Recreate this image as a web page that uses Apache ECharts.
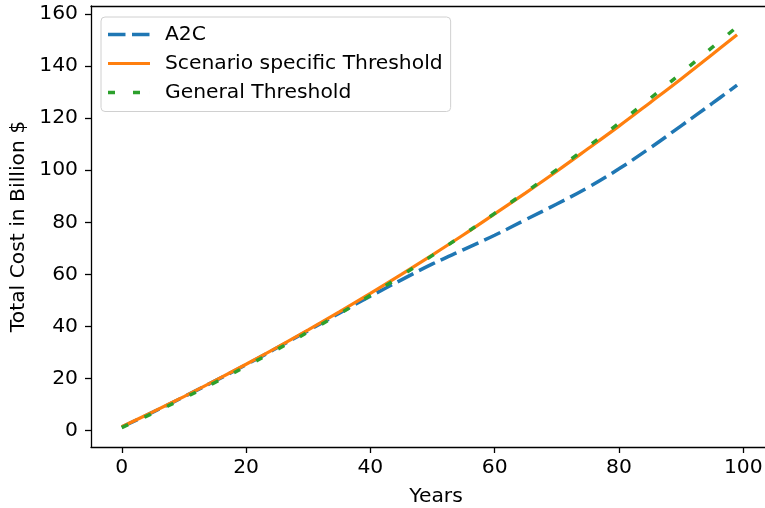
<!DOCTYPE html>
<html>
<head>
<meta charset="utf-8">
<script src="https://cdn.jsdelivr.net/npm/echarts@6/dist/echarts.min.js"></script>
<style>html,body{margin:0;padding:0;background:#fff;overflow:hidden}#c{width:765px;height:508px}</style>
</head>
<body>
<div id="c"></div>
<script>
const years = [0,5,10,15,20,25,30,35,40,45,50,55,60,65,70,75,80,85,90,95,99];
const a2c = [1.4,7.1,13.0,19.1,25.3,31.8,38.4,45.1,51.6,57.9,64.0,69.5,75.0,81.0,87.0,93.3,100.5,108.5,117.0,125.6,132.6];
const scenario = [1.5,7.2,13.1,19.2,25.5,32.0,38.7,45.6,52.7,60.0,67.5,75.2,83.2,91.3,99.6,108.2,116.9,125.9,135.0,144.4,152.0];
const general = [1.2,6.7,12.5,18.5,24.7,31.2,37.9,44.8,52.0,59.5,67.3,75.3,83.4,91.6,100.2,109.0,118.0,127.5,137.2,147.1,155.0];
const xTicks = [0,20,40,60,80,100];
const yTicks = [0,20,40,60,80,100,120,140,160];

const font = 'DejaVu Sans';
const fs = 20.3;
const chart = echarts.init(document.getElementById('c'));
const pairs = arr => years.map((x, i) => [x, arr[i]]);
const tickStyle = {color: '#000', width: 1.3};
const xMin = -4.95, xMax = -4.95 + 690 / 6.215;
chart.setOption({
  animation: false,
  grid: {left: 91, top: 6, width: 690, height: 441, show: false,
         containLabel: false, outerBoundsMode: 'none'},
  xAxis: [{
    type: 'value', min: xMin, max: xMax, position: 'bottom',
    name: 'Years', nameLocation: 'middle', nameGap: 40,
    nameTextStyle: {fontFamily: font, fontSize: fs, color: '#000'},
    axisLine: {show: true, onZero: false, lineStyle: tickStyle},
    axisTick: {show: true, length: 6, customValues: xTicks, lineStyle: tickStyle},
    axisLabel: {customValues: xTicks, fontFamily: font, fontSize: fs, color: '#000', margin: 11},
    splitLine: {show: false},
  }, {
    type: 'value', min: xMin, max: xMax, position: 'top',
    axisLine: {show: true, onZero: false, lineStyle: tickStyle},
    axisTick: {show: false}, axisLabel: {show: false}, splitLine: {show: false},
  }],
  yAxis: {
    type: 'value', min: -6.26, max: 163.0,
    name: 'Total Cost in Billion $', nameLocation: 'middle', nameGap: 58,
    nameTextStyle: {fontFamily: font, fontSize: fs, color: '#000'},
    axisLine: {show: true, onZero: false, lineStyle: tickStyle},
    axisTick: {show: true, length: 6, customValues: yTicks, lineStyle: tickStyle},
    axisLabel: {customValues: yTicks, fontFamily: font, fontSize: fs, color: '#000', margin: 13},
    splitLine: {show: false},
  },
  legend: {
    orient: 'vertical', left: 101, top: 17,
    itemWidth: 42, itemHeight: 3.5, itemGap: 7,
    padding: [6.5, 8, 8, 7],
    borderColor: '#d0d0d0', borderWidth: 1, borderRadius: 4,
    backgroundColor: 'rgba(255,255,255,0.8)',
    textStyle: {fontFamily: font, fontSize: fs, color: '#000', lineHeight: 22, padding: [0, 0, 0, 10]},
    data: [
      {name: 'A2C', icon: 'path://M0,0h17.5v3.5h-17.5z M24,0h17.5v3.5h-17.5z M42,0h0.01v3.5h-0.01z', itemStyle: {color: '#1f77b4'}},
      {name: 'Scenario specific Threshold', icon: 'path://M0,0h42v3.2h-42z', itemStyle: {color: '#ff7f0e'}},
      {name: 'General Threshold', icon: 'path://M0,0h7v3.5h-7z M25,0h7v3.5h-7z M42,0h0.01v3.5h-0.01z', itemStyle: {color: '#2ca02c'}},
    ],
  },
  series: [
    {name: 'A2C', type: 'line', data: pairs(a2c), smooth: 0.4, symbol: 'none',
     lineStyle: {color: '#1f77b4', width: 3.5, type: [17.5, 6.5]}, itemStyle: {color: '#1f77b4'}},
    {name: 'Scenario specific Threshold', type: 'line', data: pairs(scenario), smooth: 0.4, symbol: 'none',
     lineStyle: {color: '#ff7f0e', width: 3.2}, itemStyle: {color: '#ff7f0e'}},
    {name: 'General Threshold', type: 'line', data: pairs(general), smooth: 0.4, symbol: 'none',
     lineStyle: {color: '#2ca02c', width: 3.5, type: [7, 18]}, itemStyle: {color: '#2ca02c'}},
  ],
});
</script>
</body>
</html>
